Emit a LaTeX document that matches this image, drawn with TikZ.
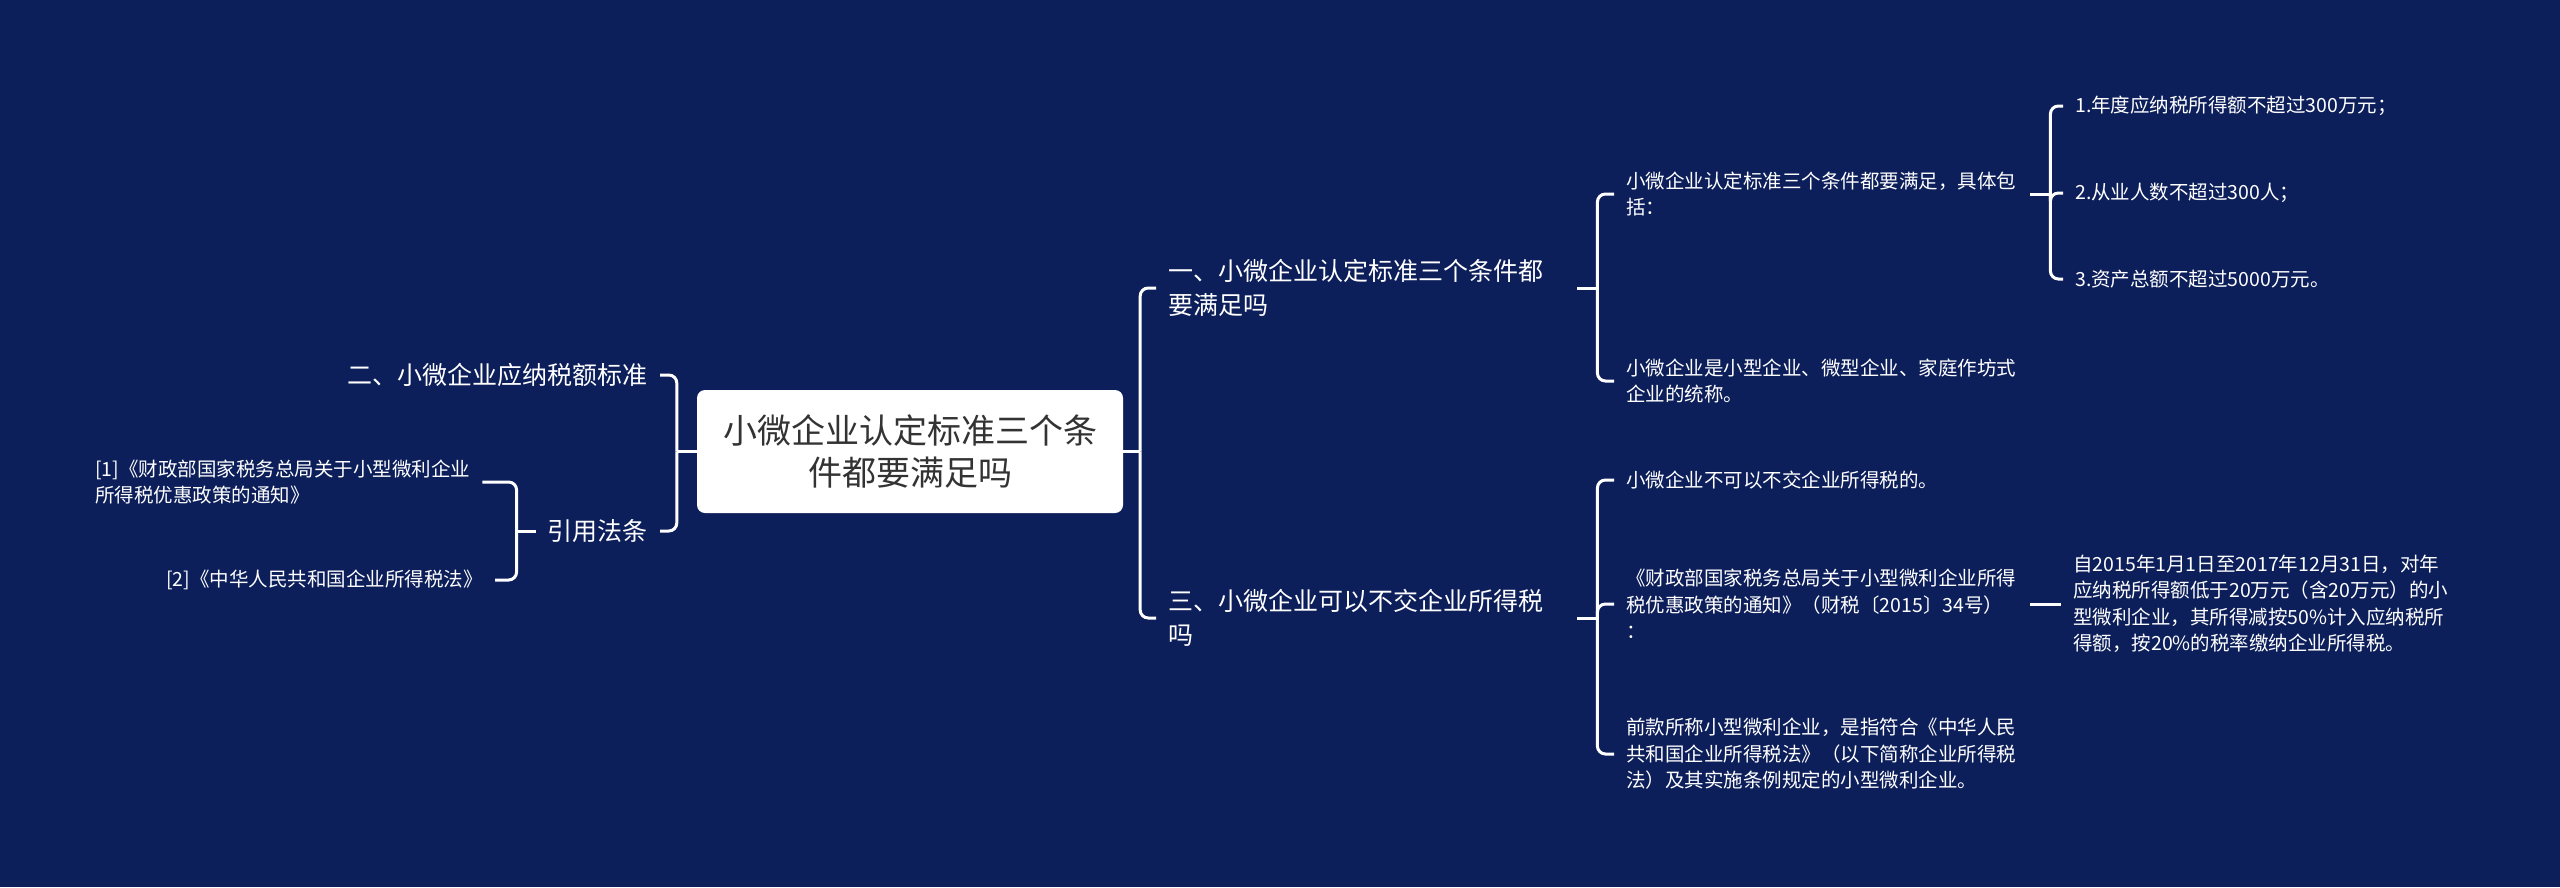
\documentclass[tikz,border=0pt]{standalone}
\usepackage{fontspec}
\setmainfont{Noto Sans CJK SC}
\definecolor{mapNavy}{RGB}{13,31,90}
\definecolor{rootGray}{RGB}{51,51,51}
\usetikzlibrary{positioning}

\begin{document}
\begin{tikzpicture}[
    x=1pt, y=-1pt,
    every node/.style={text=white, inner xsep=12pt, inner ysep=4pt},
    topic/.style={fill=white, text=rootGray, rounded corners=8pt, align=center,
                  minimum width=426pt, minimum height=123pt, inner sep=0pt,
                  font=\fontsize{34}{42}\selectfont},
    branch/.style={align=left, font=\fontsize{25}{34}\selectfont},
    leaf/.style={align=left, font=\fontsize{19.5}{26.5}\selectfont},
    link/.style={draw=white, line width=3pt, rounded corners=8pt}
  ]
    \fill[mapNavy] (0,0) rectangle (2560,887);
    \useasboundingbox (0,0) rectangle (2560,887);

    % centre
    \node[topic] (root) at (910,451.5) {小微企业认定标准三个条\\件都要满足吗};

    % left side
    \node[branch, anchor=east] (tax) at (660,375) {二、小微企业应纳税额标准};
    \node[branch, anchor=east] (law) at (660,531) {引用法条};
    \node[leaf, anchor=west] (ref1) at (83,482)
      {[1]《财政部国家税务总局关于小型微利企业\\所得税优惠政策的通知》};
    \node[leaf, anchor=east] (ref2) at (495,580) {[2]《中华人民共和国企业所得税法》};

    % right side
    \node[branch, anchor=west, text width=397pt] (cond) at (1156,288)
      {一、小微企业认定标准三个条件都\\要满足吗};
    \node[branch, anchor=west, text width=397pt] (exempt) at (1156,618)
      {三、小微企业可以不交企业所得税\\吗};

    \node[leaf, anchor=west, text width=392pt] (include) at (1614,194)
      {小微企业认定标准三个条件都要满足，具体包\\括：};
    \node[leaf, anchor=west, text width=392pt] (define) at (1614,381)
      {小微企业是小型企业、微型企业、家庭作坊式\\企业的统称。};
    \node[leaf, anchor=west] (item1) at (2063,106) {1.年度应纳税所得额不超过300万元；};
    \node[leaf, anchor=west] (item2) at (2063,193) {2.从业人数不超过300人；};
    \node[leaf, anchor=west] (item3) at (2063,279) {3.资产总额不超过5000万元。};

    \node[leaf, anchor=west, text width=392pt] (noexempt) at (1614,480)
      {小微企业不可以不交企业所得税的。};
    \node[leaf, anchor=west, text width=392pt] (notice) at (1614,604)
      {《财政部国家税务总局关于小型微利企业所得\\税优惠政策的通知》（财税〔2015〕34号）\\：};
    \node[leaf, anchor=west, text width=392pt] (scope) at (1614,754)
      {前款所称小型微利企业，是指符合《中华人民\\共和国企业所得税法》（以下简称企业所得税\\法）及其实施条例规定的小型微利企业。};
    \node[leaf, anchor=west] (relief) at (2061,604)
      {自2015年1月1日至2017年12月31日，对年\\应纳税所得额低于20万元（含20万元）的小\\型微利企业，其所得减按50\%计入应纳税所\\得额，按20\%的税率缴纳企业所得税。};

    % connectors
    \draw[link] (root.west) -- ++(-20,0) coordinate (jl);
    \draw[link] (jl) |- (tax.east);
    \draw[link] (jl) |- (law.east);
    \draw[link] (law.west) -- ++(-19,0) coordinate (jlaw);
    \draw[link] (jlaw) |- (ref1.east);
    \draw[link] (jlaw) |- (ref2.east);

    \draw[link] (root.east) -- ++(17,0) coordinate (jr);
    \draw[link] (jr) |- (cond.west);
    \draw[link] (jr) |- (exempt.west);

    \draw[link] (cond.east) -- ++(20,0) coordinate (jcond);
    \draw[link] (jcond) |- (include.west);
    \draw[link] (jcond) |- (define.west);
    \draw[link] (include.east) -- ++(20,0) coordinate (jinc);
    \draw[link] (jinc) |- (item1.west);
    \draw[link] (jinc) |- (item2.west);
    \draw[link] (jinc) |- (item3.west);

    \draw[link] (exempt.east) -- ++(20,0) coordinate (jex);
    \draw[link] (jex) |- (noexempt.west);
    \draw[link] (jex) |- (notice.west);
    \draw[link] (jex) |- (scope.west);
    \draw[link] (notice.east) -- (relief.west);
  \end{tikzpicture}
\end{document}
